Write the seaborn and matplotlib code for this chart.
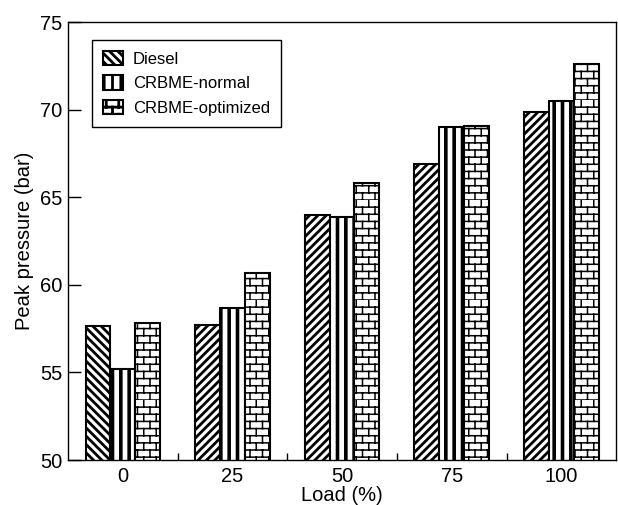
import numpy as np
import pandas as pd
from matplotlib import pyplot as plt
from matplotlib import hatch as mhatch
from matplotlib.path import Path
import seaborn as sn


# brick pattern hatch, hooked onto the 'O' hatch character
class BrickHatch(mhatch.HatchPatternBase):
    def __init__(self, hatch, density):
        self.rows = 14 * hatch.count('O')
        self.cols = 8
        self.num_lines = self.rows * (self.cols + 1)
        self.num_vertices = self.num_lines * 2

    def set_vertices_and_codes(self, vertices, codes):
        h = 1.0 / self.rows
        w = 1.0 / self.cols
        k = 0
        for r in range(self.rows):
            y0 = r * h
            vertices[k] = (0, y0)
            vertices[k + 1] = (1, y0)
            codes[k] = Path.MOVETO
            codes[k + 1] = Path.LINETO
            k += 2
            off = w / 2 if r % 2 else 0
            for c in range(self.cols):
                x = c * w + off
                vertices[k] = (x, y0)
                vertices[k + 1] = (x, y0 + h)
                codes[k] = Path.MOVETO
                codes[k + 1] = Path.LINETO
                k += 2


mhatch._hatch_types = [BrickHatch if t is mhatch.LargeCircles else t for t in mhatch._hatch_types]

# data
loads = ['0', '25', '50', '75', '100']
diesel = [57.65, 57.7, 64.0, 66.9, 69.9]
crbme_normal = [55.2, 58.7, 63.9, 69.0, 70.5]
crbme_optimized = [57.8, 60.7, 65.8, 69.1, 72.6]
fuels = ['Diesel', 'CRBME-normal', 'CRBME-optimized']

df = pd.DataFrame({
    'Load': loads * 3,
    'Fuel': np.repeat(fuels, len(loads)),
    'Pressure': diesel + crbme_normal + crbme_optimized,
})

plt.rcParams['font.family'] = ['Liberation Sans', 'DejaVu Sans']
plt.rcParams['hatch.linewidth'] = 2.0
plt.rcParams['axes.axisbelow'] = False

fig, ax = plt.subplots(figsize=(6.18, 5.05), dpi=100)
fig.subplots_adjust(left=0.110, right=0.997, bottom=0.089, top=0.956)

sn.barplot(data=df, x='Load', y='Pressure', hue='Fuel', order=loads, hue_order=fuels,
           width=0.68, gap=0, color='white', edgecolor='black', linewidth=1.5,
           saturation=1, ax=ax, legend=False)

hatches = ['////', '||', 'O']
hatch_lw = [2.0, 2.6, 1.1]
for cont, h, lw in zip(ax.containers, hatches, hatch_lw):
    for bar in cont:
        bar.set_facecolor('white')
        bar.set_hatch(h)
        if hasattr(bar, 'set_hatch_linewidth'):
            bar.set_hatch_linewidth(lw)
# the first diesel bar leans the other way
ax.containers[0][0].set_hatch('\\\\\\\\')

handles = [cont[0] for cont in ax.containers]
leg = ax.legend(handles, fuels, loc='upper left', bbox_to_anchor=(0.044, 0.96), borderaxespad=0,
                fancybox=False, edgecolor='black', framealpha=1, fontsize=12,
                handlelength=1.2, handleheight=1.0, handletextpad=0.6, labelspacing=0.5,
                borderpad=0.65)
leg.get_frame().set_linewidth(1.0)

ax.set_ylim(50, 75)
ax.set_xlim(-0.5, 4.5)
ax.set_yticks([50, 55, 60, 65, 70, 75])
ax.set_xticks(np.arange(len(loads)))
ax.set_xticklabels(loads)
ax.set_xticks(np.arange(len(loads) - 1) + 0.5, minor=True)
ax.tick_params(axis='x', which='major', length=0, labelsize=14.5, pad=5)
ax.tick_params(axis='x', which='minor', direction='in', length=5, width=1)
ax.tick_params(axis='y', direction='in', length=9, width=1, labelsize=14.5, pad=4)
for s in ax.spines.values():
    s.set_linewidth(1.0)
ax.set_xlabel('Load (%)', fontsize=14.5, labelpad=0)
ax.set_ylabel('Peak pressure (bar)', fontsize=14.5, labelpad=4)

plt.savefig('out.png', dpi=100)
